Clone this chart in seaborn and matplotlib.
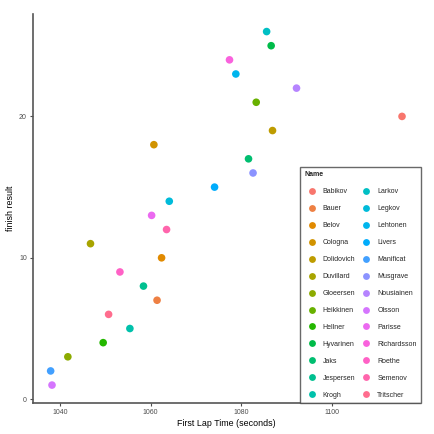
import numpy as np
import pandas as pd
import matplotlib
matplotlib.use("Agg")
import matplotlib.pyplot as plt
import seaborn as sns

# athletes in alphabetical order (legend order)
names = ["Babikov", "Bauer", "Belov", "Cologna", "Dolidovich", "Duvillard",
         "Gloeersen", "Heikkinen", "Hellner", "Hyvarinen", "Jaks", "Jespersen",
         "Krogh", "Larkov", "Legkov", "Lehtonen", "Livers", "Manificat",
         "Musgrave", "Nousiainen", "Olsson", "Parisse", "Richardsson", "Roethe",
         "Semenov", "Tritscher"]
first_lap = [1115.5, 1061.4, 1062.4, 1060.7, 1086.9, 1046.7,
             1041.7, 1083.3, 1049.5, 1086.6, 1081.6, 1058.4,
             1055.4, 1085.6, 1064.1, 1078.8, 1074.1, 1037.9,
             1082.6, 1092.2, 1038.2, 1060.2, 1077.4, 1053.2,
             1063.5, 1050.7]
finish = [20, 7, 10, 18, 19, 11,
          3, 21, 4, 25, 17, 8,
          5, 26, 14, 23, 15, 2,
          16, 22, 1, 13, 24, 9,
          12, 6]

df = pd.DataFrame({"Name": names, "first_lap": first_lap, "finish": finish})


def hue_pal(n, l=65, c=100):
    # ggplot2 style default hue palette (polar LUV -> sRGB)
    hues = np.linspace(15, 375, n + 1)[:-1]
    xn, yn, zn = 95.047, 100.0, 108.883
    un = 4 * xn / (xn + 15 * yn + 3 * zn)
    vn = 9 * yn / (xn + 15 * yn + 3 * zn)
    out = []
    for h in hues:
        u = c * np.cos(np.radians(h))
        v = c * np.sin(np.radians(h))
        Y = yn * ((l + 16) / 116) ** 3
        up = u / (13 * l) + un
        vp = v / (13 * l) + vn
        X = Y * 9 * up / (4 * vp)
        Z = Y * (12 - 3 * up - 20 * vp) / (4 * vp)
        xyz = np.array([X, Y, Z]) / 100
        m = np.array([[3.2404542, -1.5371385, -0.4985314],
                      [-0.9692660, 1.8760108, 0.0415560],
                      [0.0556434, -0.2040259, 1.0572252]])
        rgb = m @ xyz
        rgb = np.where(rgb <= 0.0031308, 12.92 * rgb,
                       1.055 * np.clip(rgb, 0, None) ** (1 / 2.4) - 0.055)
        out.append(tuple(np.clip(rgb, 0, 1)))
    return out


sns.set_style("ticks")
plt.rcParams["font.family"] = ["Liberation Sans", "DejaVu Sans"]

fig = plt.figure(figsize=(4.34, 4.34), dpi=100)
ax = fig.add_axes([0.076, 0.072, 0.891, 0.896])

sns.scatterplot(data=df, x="first_lap", y="finish", hue="Name",
                hue_order=names, palette=hue_pal(len(names)),
                s=30, edgecolor="none", ax=ax)

ax.set_xlim(1034.0, 1119.4)
ax.set_ylim(-0.25, 27.25)
ax.set_xticks([1040, 1060, 1080, 1100])
ax.set_yticks([0, 10, 20])
ax.set_xlabel("First Lap Time (seconds)", fontsize=6.4, color="black", labelpad=2)
ax.set_ylabel("finish result", fontsize=6.4, color="black", labelpad=3)
ax.tick_params(labelsize=5, colors="#4d4d4d", length=2.5, width=0.8, pad=2)
for side in ["top", "right"]:
    ax.spines[side].set_visible(False)
for side in ["left", "bottom"]:
    ax.spines[side].set_color("#555555")
    ax.spines[side].set_linewidth(1.2)

leg = ax.legend(title="Name", ncol=2, loc="lower right",
                bbox_to_anchor=(1.003, 0.0), borderaxespad=0,
                fontsize=5, title_fontsize=5, frameon=True, fancybox=False,
                edgecolor="#444444", labelspacing=1.43, handletextpad=0.6,
                columnspacing=0.55, borderpad=0.6, alignment="left",
                markerscale=0.9)
leg.get_title().set_fontweight("bold")
leg.get_frame().set_linewidth(1.0)

fig.savefig("out.png", dpi=100)
